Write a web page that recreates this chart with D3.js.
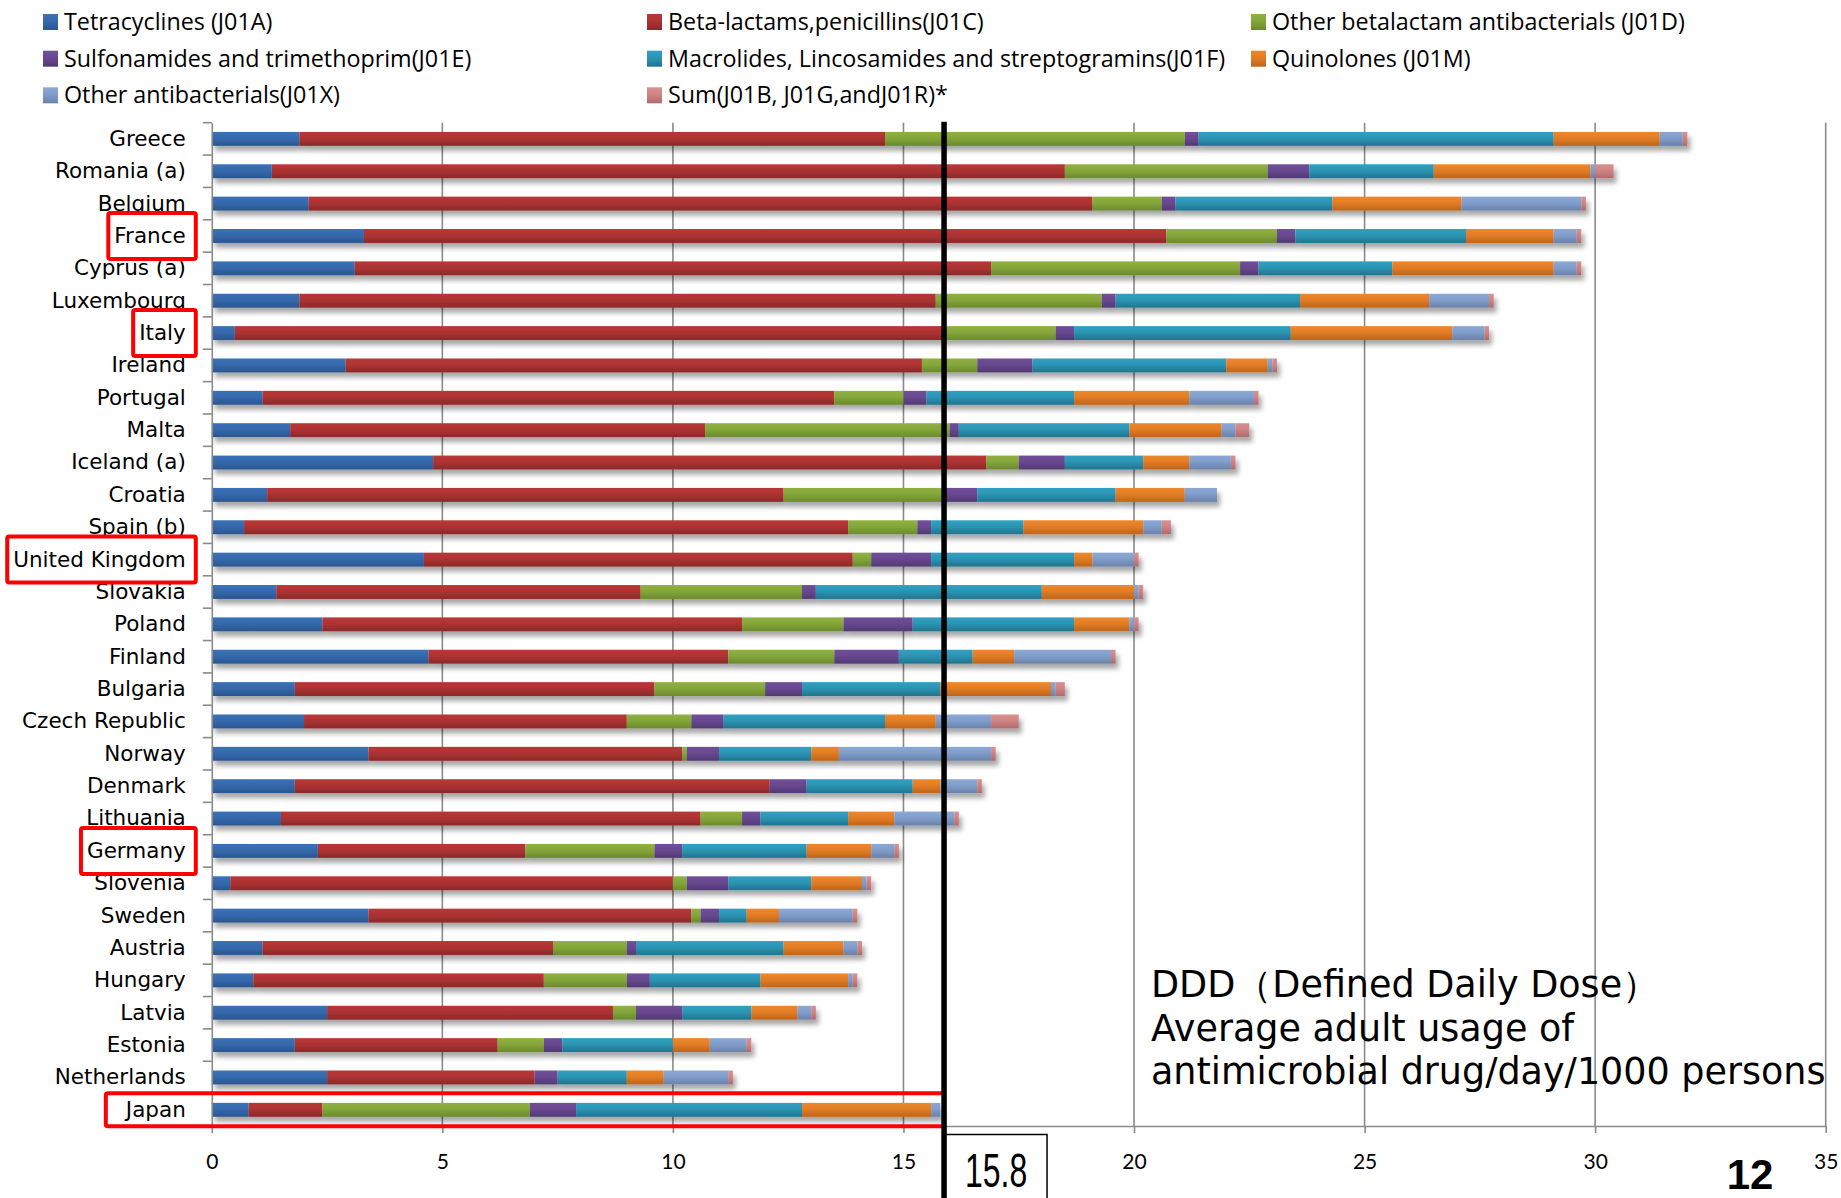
<!DOCTYPE html>
<html>
<head>
<meta charset="utf-8">
<script src="https://cdn.jsdelivr.net/npm/d3@7"></script>
<style>
  body { margin: 0; background: #ffffff; }
  svg { display: block; }
</style>
</head>
<body>
<svg id="chart" width="1841" height="1198"></svg>
<script>
// ---------------- DATA ----------------
const countries = ["Greece","Romania (a)","Belgium","France","Cyprus (a)","Luxembourg","Italy","Ireland",
  "Portugal","Malta","Iceland (a)","Croatia","Spain (b)","United Kingdom","Slovakia","Poland","Finland",
  "Bulgaria","Czech Republic","Norway","Denmark","Lithuania","Germany","Slovenia","Sweden","Austria",
  "Hungary","Latvia","Estonia","Netherlands","Japan"];

const seriesKeys  = ["J01A","J01C","J01D","J01E","J01F","J01M","J01X","SUM"];
const seriesNames = ["Tetracyclines (J01A)","Beta-lactams,penicillins(J01C)","Other betalactam antibacterials (J01D)",
  "Sulfonamides and trimethoprim(J01E)","Macrolides, Lincosamides and streptogramins(J01F)","Quinolones (J01M)",
  "Other antibacterials(J01X)","Sum(J01B, J01G,andJ01R)*"];

const tetracyclines = [1.9,1.3,2.1,3.3,3.1,1.9,0.5,2.9,1.1,1.7,4.8,1.2,0.7,4.6,1.4,2.4,4.7,1.8,2.0,3.4,1.8,1.5,2.3,0.4,3.4,1.1,0.9,2.5,1.8,2.5,0.8];
const betaLactams   = [12.7,17.2,17.0,17.4,13.8,13.8,15.4,12.5,12.4,9.0,12.0,11.2,13.1,9.3,7.9,9.1,6.5,7.8,7.0,6.8,10.3,9.1,4.5,9.6,7.0,6.3,6.3,6.2,4.4,4.5,1.6];
const otherBetaLact = [6.5,4.4,1.5,2.4,5.4,3.6,2.4,1.2,1.5,5.3,0.7,3.5,1.5,0.4,3.5,2.2,2.3,2.4,1.4,0.1,0,0.9,2.8,0.3,0.2,1.6,1.8,0.5,1.0,0,4.5];
const sulfonamides  = [0.3,0.9,0.3,0.4,0.4,0.3,0.4,1.2,0.5,0.2,1.0,0.7,0.3,1.3,0.3,1.5,1.4,0.8,0.7,0.7,0.8,0.4,0.6,0.9,0.4,0.2,0.5,1.0,0.4,0.5,1.0];
const macrolides    = [7.7,2.7,3.4,3.7,2.9,4.0,4.7,4.2,3.2,3.7,1.7,3.0,2.0,3.1,4.9,3.5,1.6,3.0,3.5,2.0,2.3,1.9,2.7,1.8,0.6,3.2,2.4,1.5,2.4,1.5,4.9];
const quinolones    = [2.3,3.4,2.8,1.9,3.5,2.8,3.5,0.9,2.5,2.0,1.0,1.5,2.6,0.4,2.0,1.2,0.9,2.4,1.1,0.6,0.6,1.0,1.4,1.1,0.7,1.3,1.9,1.0,0.8,0.8,2.8];
const otherAntibact = [0.5,0.1,2.6,0.5,0.5,1.3,0.7,0.1,1.4,0.3,0.9,0.7,0.4,0.9,0.1,0.1,2.1,0.1,1.2,3.3,0.8,1.3,0.5,0.1,1.6,0.3,0.1,0.3,0.8,1.4,0.2];
const sumOthers     = [0.1,0.4,0.1,0.1,0.1,0.1,0.1,0.1,0.1,0.3,0.1,0,0.2,0.1,0.1,0.1,0.1,0.2,0.6,0.1,0.1,0.1,0.1,0.1,0.1,0.1,0.1,0.1,0.1,0.1,0];

const xTicks = [0,5,10,15,20,25,30,35];
const highlighted = ["France","Italy","United Kingdom","Germany","Japan"];
const refValue = 15.88;
const refLabel = "15.8";
const noteLines = ["DDD（Defined Daily Dose）","Average adult usage of","antimicrobial drug/day/1000 persons"];
const pageNumber = "12";

// colours: [top, bottom] of each series gradient
const seriesTop    = ["#3a71b8","#bb3737","#8fb23f","#714f9b","#30a1c3","#f0872b","#8ba8d7","#dc8f8f"];
const seriesBottom = ["#2a5690","#8b2929","#6a8a2d","#523974","#21748f","#bf6419","#6982ab","#b06a6a"];

// ---------------- BUILD ----------------
const seriesValues = [tetracyclines,betaLactams,otherBetaLact,sulfonamides,macrolides,quinolones,otherAntibact,sumOthers];
const table = countries.map((c,i) => {
  const row = {country: c};
  seriesKeys.forEach((k,j) => row[k] = seriesValues[j][i]);
  return row;
});
const stacked = d3.stack().keys(seriesKeys)(table);

const svg = d3.select("#chart");
const W = 1841, H = 1198;
svg.append("rect").attr("width", W).attr("height", H).attr("fill", "#fff");

const x = d3.scaleLinear().domain([0,35]).range([211.8,1825.7]);
const y = d3.scaleBand().domain(countries).range([122.7,1126]).paddingInner(0.57).paddingOuter(0.285);
const [plotTop, plotBottom] = y.range();

const labelFont = "'DejaVu Sans', Verdana, sans-serif";
const labelSize = 21.5;

const defs = svg.append("defs");
seriesKeys.forEach((k,j) => {
  const g = defs.append("linearGradient").attr("id","grad-"+k)
    .attr("x1",0).attr("y1",0).attr("x2",0).attr("y2",1);
  g.append("stop").attr("offset","0%").attr("stop-color", seriesTop[j]);
  g.append("stop").attr("offset","45%").attr("stop-color", d3.interpolateRgb(seriesTop[j], seriesBottom[j])(0.3));
  g.append("stop").attr("offset","100%").attr("stop-color", seriesBottom[j]);
});
const f = defs.append("filter").attr("id","shadow").attr("x","-5%").attr("y","-50%").attr("width","110%").attr("height","250%");
f.append("feGaussianBlur").attr("in","SourceAlpha").attr("stdDeviation",2.5).attr("result","blur");
f.append("feOffset").attr("in","blur").attr("dx",3).attr("dy",5).attr("result","off");
f.append("feComponentTransfer").attr("in","off").attr("result","sh")
  .append("feFuncA").attr("type","linear").attr("slope",0.35);
const fm = f.append("feMerge");
fm.append("feMergeNode").attr("in","sh");
fm.append("feMergeNode").attr("in","SourceGraphic");

// grid lines
const grid = svg.append("g");
grid.selectAll("line").data(xTicks.filter(t => t > 0)).join("line")
  .attr("x1", d => x(d)).attr("x2", d => x(d))
  .attr("y1", plotTop).attr("y2", plotBottom)
  .attr("stroke", "#8a8a8a").attr("stroke-width", 1.6);

// bars
const rows = svg.append("g").selectAll("g.row").data(countries).join("g")
  .attr("class","row").attr("filter","url(#shadow)");
rows.selectAll("rect").data((c,i) => stacked.map(s => ({key: s.key, v: s[i], c: c})))
  .join("rect")
  .attr("x", d => x(d.v[0]))
  .attr("width", d => Math.max(0, x(d.v[1]) - x(d.v[0])))
  .attr("y", d => y(d.c))
  .attr("height", y.bandwidth())
  .attr("fill", d => "url(#grad-" + d.key + ")");

// bottom axis
const xAxis = svg.append("g").attr("transform", `translate(0,${plotBottom})`)
  .call(d3.axisBottom(x).tickValues(xTicks).tickSize(7).tickPadding(21).tickSizeOuter(0));
xAxis.select(".domain").attr("stroke","#8a8a8a").attr("stroke-width",1.6);
xAxis.selectAll(".tick line").attr("stroke","#8a8a8a").attr("stroke-width",1.6);
xAxis.selectAll(".tick text").attr("font-family","Lato, 'Open Sans', sans-serif").attr("font-size",21).attr("fill","#000");

// left axis
const yAxis = svg.append("g").attr("transform", `translate(${x(0)},0)`)
  .call(d3.axisLeft(y).tickSize(0).tickPadding(26));
yAxis.select(".domain").attr("stroke","#8a8a8a").attr("stroke-width",1.6);
yAxis.selectAll(".tick text").attr("font-family",labelFont).attr("font-size",labelSize).attr("fill","#000");
const boundaries = countries.map(c => y(c) - y.step()*y.paddingOuter()).concat([plotBottom]);
svg.append("g").selectAll("line").data(boundaries).join("line")
  .attr("x1", x(0) - 9).attr("x2", x(0)).attr("y1", d => d).attr("y2", d => d)
  .attr("stroke","#8a8a8a").attr("stroke-width",1.6);

// highlight boxes
const labelNodes = {};
yAxis.selectAll(".tick").each(function(d){ labelNodes[d] = d3.select(this).select("text").node(); });
const hl = svg.append("g");
highlighted.forEach(c => {
  const tw = labelNodes[c].getComputedTextLength();
  const right = x(0) - 26;
  const cy = y(c) + y.bandwidth()/2;
  if (c === "Japan") {
    hl.append("rect").attr("x", right - tw - 20).attr("y", cy - 16.5)
      .attr("width", x(refValue) - (right - tw - 20)).attr("height", 33)
      .attr("fill","none").attr("stroke","#ff0000").attr("stroke-width",4).attr("rx",2);
  } else {
    hl.append("rect").attr("x", right - tw - 6).attr("y", cy - 23)
      .attr("width", tw + 16).attr("height", 46)
      .attr("fill","#fff").attr("stroke","#ff0000").attr("stroke-width",4).attr("rx",2);
    hl.append("text").attr("x", right).attr("y", cy).attr("dy","0.32em")
      .attr("text-anchor","end").attr("font-family",labelFont)
      .attr("font-size",labelSize).attr("fill","#000").text(c);
  }
});

// reference line
svg.append("line").attr("x1", x(refValue)).attr("x2", x(refValue))
  .attr("y1", plotTop - 1).attr("y2", H).attr("stroke","#000").attr("stroke-width",5.5);
svg.append("rect").attr("x", x(refValue)).attr("y", 1134.5).attr("width", 103).attr("height", 80)
  .attr("fill","none").attr("stroke","#000").attr("stroke-width",1.5);
svg.append("text").attr("transform", `translate(${x(refValue) + 52},1187) scale(1,1.5)`)
  .attr("text-anchor","middle").attr("font-family","'Liberation Sans', Arial, sans-serif")
  .attr("font-size",32).attr("fill","#000").text(refLabel);

// note text
svg.append("g").selectAll("text").data(noteLines).join("text")
  .attr("x", 1151).attr("y", (d,i) => 997 + i*43.5)
  .attr("font-family","'DejaVu Sans', Verdana, sans-serif").attr("font-size",36.5).attr("fill","#000")
  .text(d => d);

// page number
svg.append("text").attr("x", 1750).attr("y", 1189).attr("text-anchor","middle")
  .attr("font-family","'Liberation Sans', Arial, sans-serif").attr("font-weight","bold")
  .attr("font-size",42).attr("fill","#000").text(pageNumber);

// legend
const legendCols = [43, 647, 1251];
const legendRowY = [22, 58.7, 95.3];
const lg = svg.append("g").selectAll("g").data(seriesKeys).join("g")
  .attr("transform", (d,i) => `translate(${legendCols[i%3]},${legendRowY[Math.floor(i/3)]})`);
lg.append("rect").attr("x",0).attr("y",-8).attr("width",15).attr("height",16)
  .attr("fill", d => "url(#grad-" + d + ")");
lg.append("text").attr("x",21).attr("y",0).attr("dy","0.35em")
  .attr("font-family","'Open Sans', Lato, sans-serif").attr("font-size",23.3).attr("fill","#000")
  .text((d,i) => seriesNames[i]);
</script>
</body>
</html>
